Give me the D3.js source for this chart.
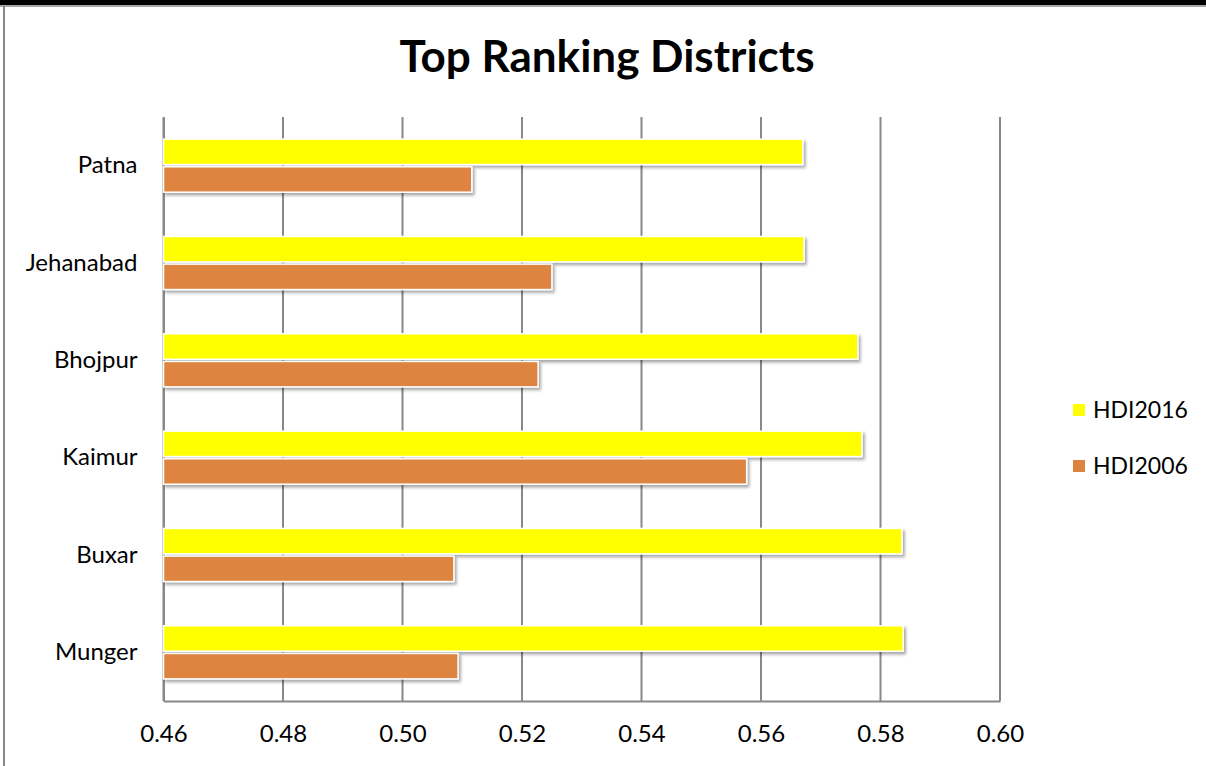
<!DOCTYPE html>
<html>
<head>
<meta charset="utf-8">
<script src="https://cdn.jsdelivr.net/npm/d3@7"></script>
<style>
  body { margin: 0; background: #fff; }
  svg { display: block; font-family: Lato, "Open Sans", sans-serif; }
</style>
</head>
<body>
<div id="chart"></div>
<script>
const districts = ["Patna", "Jehanabad", "Bhojpur", "Kaimur", "Buxar", "Munger"];
const seriesNames = ["HDI2016", "HDI2006"];
const hdi2016 = [0.5670, 0.5672, 0.5762, 0.5769, 0.5836, 0.5838];
const hdi2006 = [0.5116, 0.5250, 0.5227, 0.5576, 0.5086, 0.5093];
const xTicks = [0.46, 0.48, 0.50, 0.52, 0.54, 0.56, 0.58, 0.60];
const colors = ["#ffff00", "#dc843f"];

const width = 1206, height = 766;
const margin = {top: 117, left: 163.5, right: 206, bottom: 65};

const rows = districts.map((d, i) => ({name: d, values: [hdi2016[i], hdi2006[i]]}));

const svg = d3.select("#chart").append("svg")
    .attr("width", width)
    .attr("height", height);

const defs = svg.append("defs");
const f = defs.append("filter").attr("id", "shadow")
    .attr("x", "-5%").attr("y", "-30%").attr("width", "115%").attr("height", "170%");
f.append("feDropShadow")
    .attr("dx", 2).attr("dy", 2.5).attr("stdDeviation", 1.8)
    .attr("flood-color", "#000").attr("flood-opacity", 0.35);

// frame
svg.append("rect").attr("x", 0).attr("y", 0).attr("width", width).attr("height", 5).attr("fill", "#000");
svg.append("line").attr("x1", 0).attr("x2", width).attr("y1", 6).attr("y2", 6).attr("stroke", "#888").attr("stroke-width", 1.5);
svg.append("line").attr("x1", 4).attr("x2", 4).attr("y1", 6).attr("y2", height).attr("stroke", "#888").attr("stroke-width", 2);

const x = d3.scaleLinear()
    .domain([0.46, 0.60])
    .range([margin.left, width - margin.right]);

const y = d3.scaleBand()
    .domain(districts)
    .range([margin.top, height - margin.bottom])
    .padding(0);

const yInner = d3.scaleBand()
    .domain(seriesNames)
    .range([0, y.bandwidth()])
    .paddingInner(0.08)
    .paddingOuter(0.8);

// title
svg.append("text")
    .attr("x", 607).attr("y", 72)
    .attr("text-anchor", "middle")
    .attr("font-size", 44)
    .attr("font-weight", "bold")
    .text("Top Ranking Districts");

// gridlines
svg.append("g")
    .selectAll("line")
    .data(xTicks)
    .join("line")
    .attr("x1", d => x(d)).attr("x2", d => x(d))
    .attr("y1", margin.top).attr("y2", height - margin.bottom)
    .attr("stroke", "#888")
    .attr("stroke-width", 2);

// x axis
const xAxis = svg.append("g")
    .attr("transform", `translate(0,${height - margin.bottom})`)
    .call(d3.axisBottom(x).tickValues(xTicks).tickFormat(d3.format(".2f")).tickSize(0).tickPadding(24));
xAxis.select(".domain").attr("stroke", "#888").attr("stroke-width", 2);
xAxis.selectAll("text").attr("font-size", 24).attr("fill", "#000").attr("font-family", "Lato, sans-serif");

// y axis
const yAxis = svg.append("g")
    .attr("transform", `translate(${margin.left},0)`)
    .call(d3.axisLeft(y).tickSize(0).tickPadding(26));
yAxis.select(".domain").attr("stroke", "#888").attr("stroke-width", 2);
yAxis.selectAll("text").attr("font-size", 24).attr("fill", "#000").attr("font-family", "Lato, sans-serif");

// bars
const groups = svg.append("g")
    .selectAll("g")
    .data(rows)
    .join("g")
    .attr("transform", d => `translate(0,${y(d.name)})`);

groups.selectAll("rect")
    .data(d => d.values.map((v, j) => ({key: seriesNames[j], value: v, j})))
    .join("rect")
    .attr("x", x(0.46))
    .attr("y", d => yInner(d.key))
    .attr("width", d => x(d.value) - x(0.46))
    .attr("height", yInner.bandwidth())
    .attr("fill", d => colors[d.j])
    .attr("stroke", "#fff")
    .attr("stroke-width", 1.5)
    .attr("filter", "url(#shadow)");

// legend
const legend = svg.append("g")
    .selectAll("g")
    .data(seriesNames)
    .join("g")
    .attr("transform", (d, i) => `translate(1073,${410 + i * 56})`);

legend.append("rect")
    .attr("x", 0).attr("y", -6)
    .attr("width", 12).attr("height", 12)
    .attr("fill", (d, i) => colors[i]);

legend.append("text")
    .attr("x", 20).attr("y", 0)
    .attr("dy", "0.35em")
    .attr("font-size", 23)
    .text(d => d);
</script>
</body>
</html>
